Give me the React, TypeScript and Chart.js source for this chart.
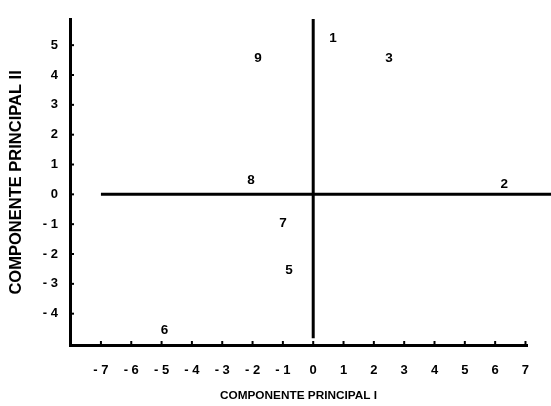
import React, { useEffect, useRef } from "react";
import { Chart, registerables } from "chart.js";

Chart.register(...registerables);

// Data
const pointLabels = ["1", "2", "3", "5", "6", "7", "8", "9"];
const pointX = [0.65, 6.3, 2.5, -0.8, -4.9, -1.0, -2.05, -1.82];
const pointY = [5.22, 0.33, 4.56, -2.56, -4.56, -0.98, 0.46, 4.56];

const xTicks = [-7, -6, -5, -4, -3, -2, -1, 0, 1, 2, 3, 4, 5, 6, 7];
const yTicks = [-4, -3, -2, -1, 0, 1, 2, 3, 4, 5];
const xRange = [-8.02, 7.05];
const yRange = [-5.05, 5.85];

// reference lines through the origin
const vLineY = [5.88, -4.82];
const hLineX = [-7, 7.95];

const xTitle = "COMPONENTE PRINCIPAL I";
const yTitle = "COMPONENTE PRINCIPAL II";

const FONT = "'Liberation Sans', Arial, Helvetica, sans-serif";

const fmt = (v: number) => (v < 0 ? "- " + Math.abs(v) : String(v));

const innerTicks = {
  id: "innerTicks",
  afterDraw(chart: any) {
    const ctx = chart.ctx;
    const xs = chart.scales.x;
    const ys = chart.scales.y;
    ctx.save();
    ctx.strokeStyle = "#000";
    ctx.lineWidth = 2;
    xs.ticks.forEach((_t: any, i: number) => {
      const px = xs.getPixelForTick(i);
      ctx.beginPath();
      ctx.moveTo(px, xs.top);
      ctx.lineTo(px, xs.top - 4);
      ctx.stroke();
    });
    ys.ticks.forEach((_t: any, i: number) => {
      const py = ys.getPixelForTick(i);
      ctx.beginPath();
      ctx.moveTo(ys.right, py);
      ctx.lineTo(ys.right + 4, py);
      ctx.stroke();
    });
    ctx.restore();
  },
};

const textPoints = {
  id: "textPoints",
  afterDatasetsDraw(chart: any) {
    const ctx = chart.ctx;
    const meta = chart.getDatasetMeta(2);
    ctx.save();
    ctx.fillStyle = "#000";
    ctx.font = `bold 13.5px ${FONT}`;
    ctx.textAlign = "center";
    ctx.textBaseline = "middle";
    meta.data.forEach((el: any, i: number) => {
      ctx.fillText(pointLabels[i], el.x, el.y);
    });
    ctx.restore();
  },
};

export default function App() {
  const ref = useRef<HTMLCanvasElement | null>(null);

  useEffect(() => {
    if (!ref.current) return;
    const chart = new Chart(ref.current, {
      type: "scatter",
      data: {
        datasets: [
          {
            data: vLineY.map((y) => ({ x: 0, y })),
            showLine: true,
            borderColor: "#000",
            borderWidth: 3,
            pointRadius: 0,
            clip: false as any,
          },
          {
            data: hLineX.map((x) => ({ x, y: 0 })),
            showLine: true,
            borderColor: "#000",
            borderWidth: 3,
            pointRadius: 0,
            clip: false as any,
          },
          {
            data: pointX.map((x, i) => ({ x, y: pointY[i] })),
            pointRadius: 0,
            pointHoverRadius: 0,
            showLine: false,
          },
        ],
      },
      options: {
        animation: false,
        responsive: false,
        maintainAspectRatio: false,
        events: [],
        layout: { padding: { top: 13, right: 24, left: 0, bottom: 0 } },
        plugins: {
          legend: { display: false },
          tooltip: { enabled: false },
        },
        scales: {
          x: {
            type: "linear",
            min: xRange[0],
            max: xRange[1],
            afterBuildTicks: (s: any) => {
              s.ticks = xTicks.map((v) => ({ value: v }));
            },
            afterFit: (s: any) => {
              s.height = 61;
            },
            grid: { display: false, drawTicks: false },
            border: { display: true, color: "#000", width: 3 },
            ticks: {
              color: "#000",
              padding: 18,
              maxRotation: 0,
              autoSkip: false,
              font: { family: FONT, size: 13, weight: "bold" },
              callback: (v: any) => fmt(Number(v)),
            },
            title: {
              display: true,
              text: xTitle,
              color: "#000",
              padding: { top: 0, bottom: 3 },
              font: { family: FONT, size: 11.8, weight: "bold" },
            },
          },
          y: {
            type: "linear",
            min: yRange[0],
            max: yRange[1],
            afterBuildTicks: (s: any) => {
              s.ticks = yTicks.map((v) => ({ value: v }));
            },
            afterFit: (s: any) => {
              s.width = 70;
            },
            grid: { display: false, drawTicks: false },
            border: { display: true, color: "#000", width: 3 },
            ticks: {
              color: "#000",
              padding: 12,
              autoSkip: false,
              font: { family: FONT, size: 13, weight: "bold" },
              callback: (v: any) => fmt(Number(v)),
            },
            title: {
              display: true,
              text: yTitle,
              color: "#000",
              padding: { top: 7, bottom: 0 },
              font: { family: FONT, size: 16.5, weight: "bold" },
            },
          },
        },
      },
      plugins: [innerTicks, textPoints],
    });
    return () => chart.destroy();
  }, []);

  return (
    <div style={{ position: "fixed", left: 0, top: 0, width: 551, height: 406, background: "#fff" }}>
      <canvas ref={ref} width={551} height={406} style={{ display: "block", width: 551, height: 406 }} />
    </div>
  );
}
